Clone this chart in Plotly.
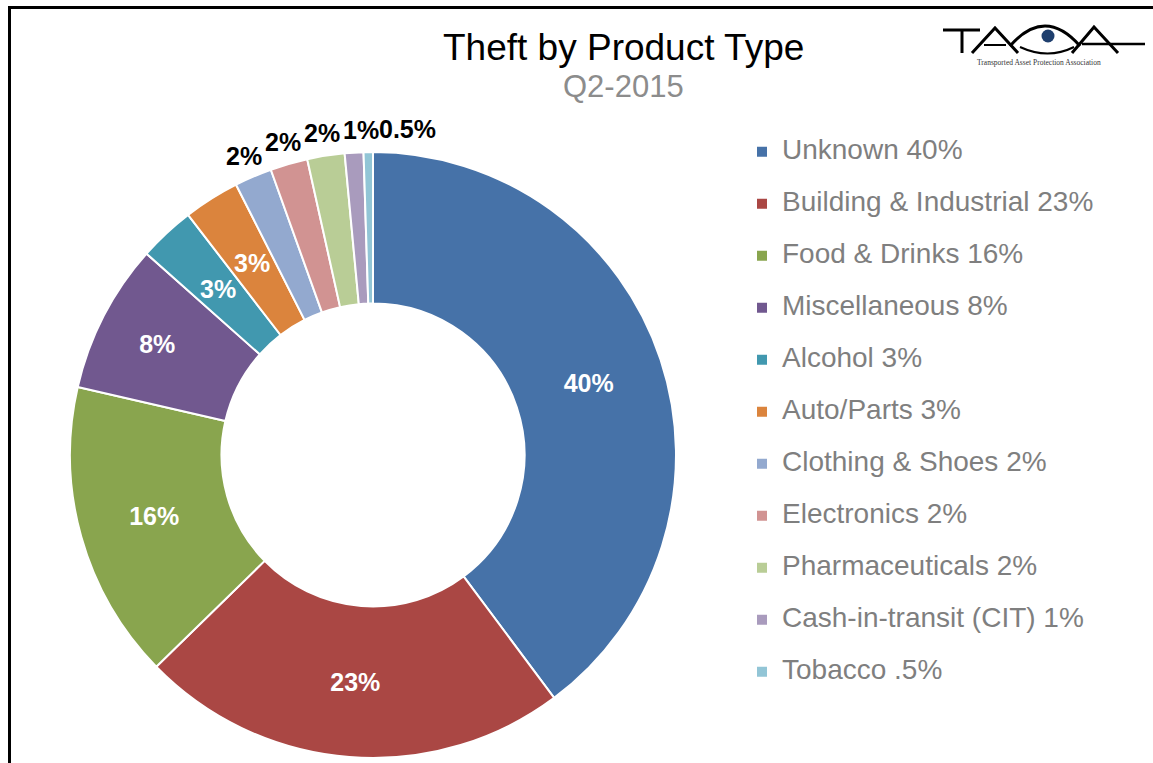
import math
import plotly.graph_objects as go

categories = ["Unknown", "Building & Industrial", "Food & Drinks", "Miscellaneous",
              "Alcohol", "Auto/Parts", "Clothing & Shoes", "Electronics",
              "Pharmaceuticals", "Cash-in-transit (CIT)", "Tobacco"]
values = [40, 23, 16, 8, 3, 3, 2, 2, 2, 1, 0.5]
slice_labels = ["40%", "23%", "16%", "8%", "3%", "3%", "2%", "2%", "2%", "1%", "0.5%"]
legend_pct = ["40%", "23%", "16%", "8%", "3%", "3%", "2%", "2%", "2%", "1%", ".5%"]
colors = ["#4672A8", "#AA4744", "#89A54E", "#71588F", "#4198AF", "#DB843D",
          "#93A9CF", "#D19392", "#B9CD96", "#A99BBD", "#92C5D6"]
# horizontal nudges of the outside labels (px) so they do not collide
label_xshift = [0, 0, 0, 0, 0, 0, 0, 0, 0, 8, 40]

W, H = 1153, 763
FONT = "Liberation Sans, Arial, sans-serif"

# pie geometry (pixels)
DOM_X = (70, 676)
DOM_Y = (152, 758)
CX = (DOM_X[0] + DOM_X[1]) / 2
CY = (DOM_Y[0] + DOM_Y[1]) / 2
R = (DOM_X[1] - DOM_X[0]) / 2
HOLE = 0.5

N_NATIVE = 4  # big slices labelled by the pie itself

legend_names = [f"<span style='font-size:28px'>{c} {p}</span><br> " for c, p in zip(categories, legend_pct)]
pie_text = [t if i < N_NATIVE else "" for i, t in enumerate(slice_labels)]


def P(x, y):
    return x / W, 1 - y / H


fig = go.Figure(go.Pie(
    labels=legend_names,
    values=values,
    text=pie_text,
    textinfo="text",
    textposition="inside",
    insidetextorientation="horizontal",
    textfont=dict(family=FONT, size=25, color="white", weight="bold"),
    marker=dict(colors=colors, line=dict(color="white", width=2)),
    hole=HOLE,
    sort=False,
    direction="clockwise",
    rotation=0,
    domain=dict(x=[DOM_X[0] / W, DOM_X[1] / W], y=[1 - DOM_Y[1] / H, 1 - DOM_Y[0] / H]),
))

# labels for small slices, placed from the data (mid-angle of each slice)
annotations = []
total = sum(values)
cum = 0.0
for i, v in enumerate(values):
    mid = cum + v / 2
    cum += v
    if i < N_NATIVE:
        continue
    theta = mid / total * 2 * math.pi
    if i < 6:
        r = R * (1 + HOLE) / 2
        col = "white"
    else:
        r = R * 1.075
        col = "black"
    x, y = CX + r * math.sin(theta), CY - r * math.cos(theta)
    px_, py_ = P(x, y)
    annotations.append(dict(
        text=slice_labels[i], x=px_, y=py_, xref="paper", yref="paper", showarrow=False,
        xanchor="center", yanchor="middle", xshift=label_xshift[i],
        font=dict(family=FONT, size=25, color=col, weight="bold")))

annotations += [
    dict(text="Theft by Product Type", x=623 / W, y=1 - 47 / H, xref="paper", yref="paper",
         showarrow=False, font=dict(family=FONT, size=37, color="black"),
         xanchor="center", yanchor="middle"),
    dict(text="Q2-2015", x=623 / W, y=1 - 87 / H, xref="paper", yref="paper",
         showarrow=False, font=dict(family=FONT, size=31, color="#8C8C8C"),
         xanchor="center", yanchor="middle"),
    dict(text="Transported Asset Protection Association", x=1039 / W, y=1 - 63 / H,
         xref="paper", yref="paper", showarrow=False,
         font=dict(family="Liberation Serif, Times New Roman", size=7.5, color="#333333"),
         xanchor="center", yanchor="middle"),
]


def path(points, closed=False):
    s = "M " + " L ".join(f"{P(x, y)[0]},{P(x, y)[1]}" for x, y in points)
    return s + (" Z" if closed else "")


def qpath(p0, c, p1):
    a, b, d = P(*p0), P(*c), P(*p1)
    return f"M {a[0]},{a[1]} Q {b[0]},{b[1]} {d[0]},{d[1]}"


logo = dict(type="path", xref="paper", yref="paper", line=dict(color="black", width=3))
shapes = [
    # frame
    dict(type="line", xref="paper", yref="paper", x0=8 / W, x1=1, y0=1 - 7.5 / H, y1=1 - 7.5 / H,
         line=dict(color="black", width=3)),
    dict(type="line", xref="paper", yref="paper", x0=9.5 / W, x1=9.5 / W, y0=0, y1=1 - 6 / H,
         line=dict(color="black", width=3)),
    # logo: T
    dict(logo, path=path([(943, 30), (980, 30)])),
    dict(logo, path=path([(962, 30), (962, 53)])),
    # A
    dict(logo, path=path([(972, 53), (995, 28), (1018, 53)])),
    dict(logo, path=path([(984, 45), (1006, 45)]), line=dict(color="black", width=2)),
    # eye
    dict(logo, path=qpath((1010, 46), (1045, 6), (1080, 46))),
    dict(logo, path=qpath((1020, 47), (1048, 60), (1074, 47)), line=dict(color="black", width=2)),
    dict(type="circle", xref="paper", yref="paper",
         x0=1041.5 / W, x1=1054.5 / W, y0=1 - 42.5 / H, y1=1 - 29.5 / H,
         fillcolor="#1F3F6E", line=dict(width=0)),
    # A + long bar
    dict(logo, path=path([(1072, 53), (1094, 27), (1118, 53)])),
    dict(logo, path=path([(1082, 44), (1145, 44)]), line=dict(color="black", width=2.5)),
]

fig.update_layout(
    width=W, height=H,
    margin=dict(l=0, r=0, t=0, b=0),
    paper_bgcolor="white",
    font=dict(family=FONT),
    showlegend=True,
    legend=dict(
        x=742 / W, xanchor="left",
        y=1 - 133 / H, yanchor="top",
        font=dict(family=FONT, size=18.85, color="#7F7F7F"),
        valign="top",
        bgcolor="rgba(0,0,0,0)",
    ),
    annotations=annotations,
    shapes=shapes,
)

fig.write_html("out.html")
